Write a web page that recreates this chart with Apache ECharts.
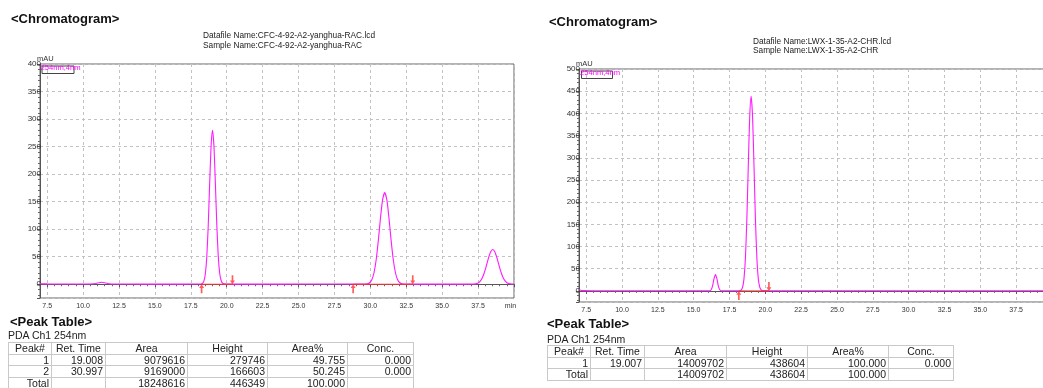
<!DOCTYPE html>
<html>
<head>
<meta charset="utf-8">
<script src="https://cdn.jsdelivr.net/npm/echarts@6/dist/echarts.min.js"></script>
<style>
  html, body { margin: 0; padding: 0; background: #fff; }
  #wrap { position: relative; width: 1043px; height: 388px; overflow: hidden; font-family: 'Liberation Sans', Arial, sans-serif; }
  #chart { position: absolute; left: 0; top: 0; width: 1043px; height: 388px; }
  .ptitle { position: absolute; font-weight: bold; font-size: 13px; color: #111; white-space: nowrap; line-height: 14px; }
  .pch { position: absolute; font-size: 10.5px; color: #222; white-space: nowrap; line-height: 11px; }
  table.pt { position: absolute; border-collapse: collapse; table-layout: fixed; font-size: 10.5px; color: #222; }
  table.pt td { border: 1px solid #c9c9c9; padding: 0 2px; height: 10.7px; line-height: 10.7px; text-align: right; white-space: nowrap; overflow: hidden; }
  table.pt tr.hd td { text-align: center; }
</style>
</head>
<body>
<div id="wrap">
  <div id="chart"></div>
</div>
<script>
// ---- left run: racemate ----
const leftDatafile = 'Datafile Name:CFC-4-92-A2-yanghua-RAC.lcd';
const leftSample = 'Sample Name:CFC-4-92-A2-yanghua-RAC';
const leftYMax = 400;
// detector trace, [minutes, mAU]
const leftTrace = [
  [7.0, 0.8], [7.5, 0.6], [8.5, 0.5], [9.5, 0.4], [10.5, 0.5], [10.9, 1.2], [11.1, 2.8], [11.3, 3.6],
  [11.5, 2.6], [11.8, 1.0], [12.2, 0.5], [13.5, 0.3], [15.0, 0.2], [16.5, 0.2], [17.5, 0.3], [18.0, 0.3],
  [18.21, 0.4], [18.31, 1.4], [18.41, 5.6], [18.51, 18.5], [18.61, 49], [18.71, 105], [18.81, 181],
  [18.91, 250], [19.008, 279.746], [19.11, 251], [19.21, 183], [19.31, 107], [19.41, 51], [19.51, 20],
  [19.61, 6.8], [19.71, 2.0], [19.81, 0.6], [19.95, 0.3], [20.5, 0.2], [22.5, 0.2], [25.0, 0.3],
  [27.5, 0.4], [29.0, 0.5], [29.65, 0.5],
  [29.8, 0.8], [29.95, 2.7], [30.1, 8.1], [30.25, 20.4], [30.4, 43.5], [30.55, 78.2], [30.7, 119.1],
  [30.85, 153.1], [30.997, 166.603], [31.15, 153.1], [31.3, 119.1], [31.45, 78.2], [31.6, 43.5],
  [31.75, 20.4], [31.9, 8.1], [32.05, 2.7], [32.2, 0.8], [32.5, 0.3], [34.0, 0.2], [36.0, 0.2], [37.2, 0.3],
  [37.32, 0.6], [37.47, 1.8], [37.62, 4.7], [37.77, 10.4], [37.92, 19.9], [38.07, 32.9], [38.22, 47.2],
  [38.37, 58.6], [38.52, 63], [38.67, 58.6], [38.82, 47.2], [38.97, 32.9], [39.12, 19.9], [39.27, 10.4],
  [39.42, 4.7], [39.57, 1.8], [39.72, 0.8], [39.86, 0.5], [40.0, 0.4]
];
const leftBaseStarts = [18.25, 28.8];
const leftBaseEnds = [20.4, 32.95];
const leftPeaks = [
  ['1', '19.008', '9079616', '279746', '49.755', '0.000'],
  ['2', '30.997', '9169000', '166603', '50.245', '0.000']
];
const leftTotal = ['Total', '', '18248616', '446349', '100.000', ''];

// ---- right run: enantioenriched sample ----
const rightDatafile = 'Datafile Name:LWX-1-35-A2-CHR.lcd';
const rightSample = 'Sample Name:LWX-1-35-A2-CHR';
const rightYMax = 500;
const rightTrace = [
  [7.0, 3.0], [7.1, 1.5], [7.3, 0.6], [8.0, 0.3], [10.0, 0.2], [12.5, 0.2], [14.0, 0.2], [15.5, 0.2],
  [16.0, 0.3], [16.12, 0.4], [16.22, 2.6], [16.32, 11.3], [16.42, 27.5], [16.52, 37], [16.62, 27.5],
  [16.72, 11.3], [16.82, 2.6], [16.92, 0.4], [17.2, 0.2], [17.8, 0.2], [18.1, 0.3],
  [18.21, 0.4], [18.31, 1.9], [18.41, 8.0], [18.51, 27.2], [18.61, 74], [18.71, 161], [18.81, 281],
  [18.91, 392], [19.007, 438.604], [19.11, 392], [19.21, 281], [19.31, 161], [19.41, 74], [19.51, 27.2],
  [19.61, 8.5], [19.71, 2.5], [19.81, 0.6], [20.1, 0.3], [22.0, 0.2], [25.0, 0.3], [30.0, 0.2],
  [35.0, 0.2], [40.0, 0.2]
];
const rightBaseStarts = [18.15];
const rightBaseEnds = [20.25];
const rightPeaks = [
  ['1', '19.007', '14009702', '438604', '100.000', '0.000']
];
const rightTotal = ['Total', '', '14009702', '438604', '100.000', ''];

// shared labels
const tableHeader = ['Peak#', 'Ret. Time', 'Area', 'Height', 'Area%', 'Conc.'];
const channelName = 'PDA Ch1 254nm';
const traceName = '254nm,4nm';
const timeRange = [7.0, 40.0];
const yMin = -25;

const FONT = "'Liberation Sans', Arial, sans-serif";
const MAGENTA = '#ff1aff';
const RED = '#ff3333';
const ARROW = 'path://M3,0 L6,5 L4,5 L4,12 L2,12 L2,5 L0,5 Z';

function xAxisFor(gi) {
  return {
    type: 'value', gridIndex: gi, min: timeRange[0], max: timeRange[1],
    minInterval: 2.5, maxInterval: 2.5, splitNumber: 13,
    axisLine: { show: true, lineStyle: { color: '#555', width: 1 } },
    axisTick: { show: true, length: 3, lineStyle: { color: '#555' } },
    minorTick: { show: true, splitNumber: 5, length: 2, lineStyle: { color: '#666' } },
    splitLine: { show: true, lineStyle: { color: '#c2c2c2', type: [3, 3], width: 1 } },
    axisLabel: {
      showMinLabel: false, color: '#333', fontSize: 7, fontFamily: FONT, margin: 5,
      formatter: v => (v >= timeRange[1] ? '{u|min}' : v.toFixed(1)),
      rich: { u: { fontSize: 7, fontFamily: FONT, color: '#333', padding: [0, 7, 0, 0] } }
    }
  };
}
function yAxisFor(gi, max) {
  return {
    type: 'value', gridIndex: gi, min: yMin, max: max,
    minInterval: 50, maxInterval: 50, splitNumber: 9,
    axisLine: { show: true, lineStyle: { color: '#555', width: 1 } },
    axisTick: { show: true, length: 3, lineStyle: { color: '#555' } },
    minorTick: { show: true, splitNumber: 5, length: 2, lineStyle: { color: '#666' } },
    splitLine: { show: true, lineStyle: { color: '#c2c2c2', type: [3, 3], width: 1 } },
    axisLabel: { showMinLabel: false, color: '#333', fontSize: 8, fontFamily: FONT, margin: -1 }
  };
}
function baseSeries(gi, starts, ends) {
  const out = [];
  starts.forEach((s, i) => {
    out.push({
      type: 'line', xAxisIndex: gi, yAxisIndex: gi, data: [[s, 0], [ends[i], 0]],
      symbol: 'none', lineStyle: { color: RED, width: 1 }, silent: true, z: 4, animation: false
    });
  });
  out.push({
    type: 'scatter', xAxisIndex: gi, yAxisIndex: gi, data: starts.map(s => [s, 0]),
    symbol: ARROW, symbolSize: [5, 9], symbolOffset: [0, 4.5], itemStyle: { color: RED },
    silent: true, z: 5, animation: false
  });
  out.push({
    type: 'scatter', xAxisIndex: gi, yAxisIndex: gi, data: ends.map(s => [s, 0]),
    symbol: ARROW, symbolSize: [5, 9], symbolRotate: 180, symbolOffset: [0, -4.5], itemStyle: { color: RED },
    silent: true, z: 5, animation: false
  });
  return out;
}
function traceSeries(gi, data) {
  return {
    type: 'line', xAxisIndex: gi, yAxisIndex: gi, data: data, symbol: 'none', smooth: 0.2,
    lineStyle: { color: MAGENTA, width: 1.1 }, silent: true, z: 3, animation: false, clip: true
  };
}
function txt(x, y, text, size, opts) {
  return Object.assign({
    type: 'text', left: x, top: y, silent: true, z: 100,
    style: { text: text, fill: '#222', font: size + 'px ' + FONT }
  }, opts || {});
}

const grids = [
  { left: 40, top: 64, width: 474, height: 234 },
  { left: 579, top: 69, width: 473, height: 233 }
];

const chart = echarts.init(document.getElementById('chart'), null, { renderer: 'canvas' });
chart.setOption({
  animation: false,
  backgroundColor: '#fff',
  grid: grids.map(g => Object.assign({
    show: true, borderColor: '#666', borderWidth: 1, backgroundColor: 'transparent',
    containLabel: false, outerBoundsMode: 'none'
  }, g)),
  xAxis: [xAxisFor(0), xAxisFor(1)],
  yAxis: [yAxisFor(0, leftYMax), yAxisFor(1, rightYMax)],
  series: [
    traceSeries(0, leftTrace),
    ...baseSeries(0, leftBaseStarts, leftBaseEnds),
    traceSeries(1, rightTrace),
    ...baseSeries(1, rightBaseStarts, rightBaseEnds)
  ],
  graphic: [
    { type: 'text', left: 11, top: 13, silent: true, style: { text: '<Chromatogram>', fill: '#111', font: 'bold 13px ' + FONT } },
    { type: 'text', left: 549, top: 16, silent: true, style: { text: '<Chromatogram>', fill: '#111', font: 'bold 13px ' + FONT } },
    txt(203, 32, leftDatafile, 8.3),
    txt(203, 42, leftSample, 8.3),
    txt(753, 38, rightDatafile, 8.3),
    txt(753, 47, rightSample, 8.3),
    txt(37, 55, 'mAU', 7.5, { style: { text: 'mAU', fill: '#333', font: '7.5px ' + FONT } }),
    txt(576, 60, 'mAU', 7.5, { style: { text: 'mAU', fill: '#333', font: '7.5px ' + FONT } }),
    { type: 'rect', left: 39.5, top: 63.5, silent: true, z: 101, shape: { width: 32, height: 7.5 }, style: { fill: 'none', stroke: '#444', lineWidth: 1 } },
    { type: 'text', left: 40.5, top: 63.5, silent: true, z: 102, style: { text: traceName, fill: '#ff00ff', font: '7.6px ' + FONT } },
    { type: 'rect', left: 579, top: 68.5, silent: true, z: 101, shape: { width: 31, height: 7.5 }, style: { fill: 'none', stroke: '#444', lineWidth: 1 } },
    { type: 'text', left: 580, top: 68.5, silent: true, z: 102, style: { text: traceName, fill: '#ff00ff', font: '7.6px ' + FONT } }
  ]
});

// peak tables
const wrap = document.getElementById('wrap');
function addDiv(cls, x, y, text) {
  const d = document.createElement('div');
  d.className = cls; d.style.left = x + 'px'; d.style.top = y + 'px'; d.textContent = text;
  wrap.appendChild(d);
}
function addTable(x, y, widths, rows) {
  const t = document.createElement('table');
  t.className = 'pt'; t.style.left = x + 'px'; t.style.top = y + 'px';
  const cg = document.createElement('colgroup');
  widths.forEach(w => { const c = document.createElement('col'); c.style.width = w + 'px'; cg.appendChild(c); });
  t.appendChild(cg);
  rows.forEach((r, ri) => {
    const tr = document.createElement('tr');
    if (ri === 0) tr.className = 'hd';
    r.forEach(v => { const td = document.createElement('td'); td.textContent = v; tr.appendChild(td); });
    t.appendChild(tr);
  });
  wrap.appendChild(t);
}
addDiv('ptitle', 10, 315, '<Peak Table>');
addDiv('pch', 8, 330, channelName);
addTable(8, 342, [43, 54, 82, 80, 80, 66], [tableHeader, ...leftPeaks, leftTotal]);
addDiv('ptitle', 547, 317, '<Peak Table>');
addDiv('pch', 547, 334, channelName);
addTable(547, 345, [43, 54, 82, 81, 81, 65], [tableHeader, ...rightPeaks, rightTotal]);
</script>
</body>
</html>
